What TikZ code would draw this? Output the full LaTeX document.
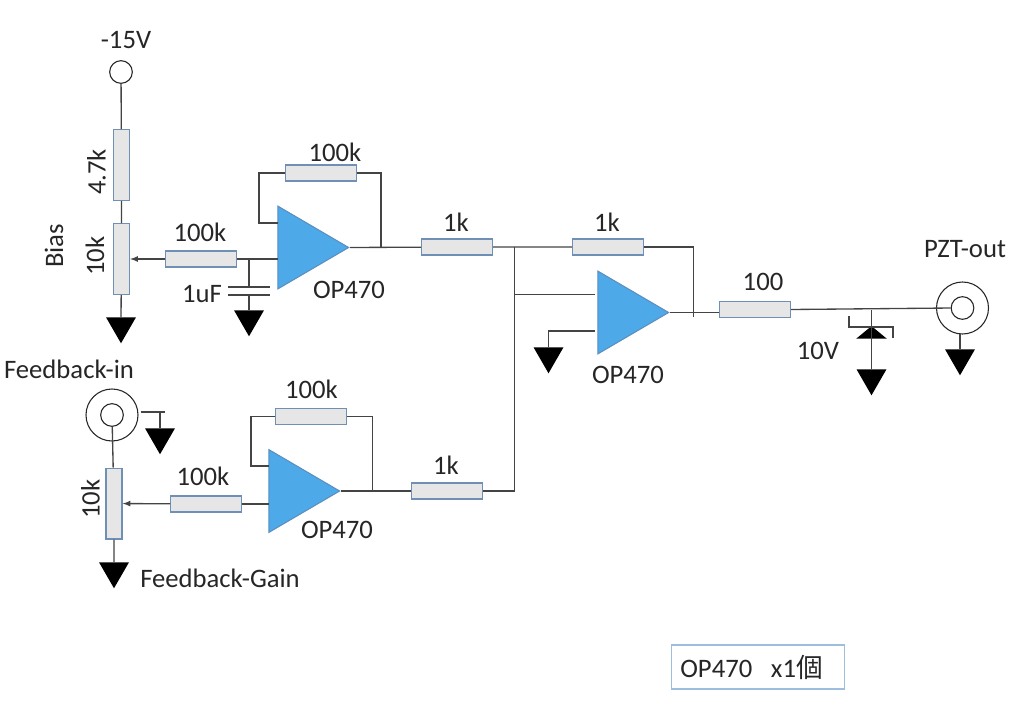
\documentclass[tikz,border=0pt]{standalone}
\usepackage{fontspec}
\setmainfont{Carlito}
\newfontfamily\cjk{Noto Sans CJK JP}
\usetikzlibrary{shapes.geometric}
\definecolor{wirecolor}{HTML}{444444}
\definecolor{rescolor}{HTML}{E6E6E6}
\definecolor{resedge}{HTML}{6F8FB5}
\definecolor{ampcolor}{HTML}{4DA9E8}
\definecolor{ampedge}{HTML}{5B8FC0}
\definecolor{boxedge}{HTML}{9DBFDD}
\tikzset{
  wire/.style = {draw = wirecolor, line width = 1pt},
  lbl/.style = {font = \fontsize{20}{20}\selectfont, text = black!85, inner sep = 0pt},
  resv/.style = {draw = resedge, fill = rescolor, line width = 1pt, minimum width = 12pt, minimum height = 53pt, inner sep = 0pt},
  resh/.style = {draw = resedge, fill = rescolor, line width = 1pt, minimum width = 53pt, minimum height = 12pt, inner sep = 0pt},
  amp/.style = {isosceles triangle, isosceles triangle stretches, draw = ampedge, fill = ampcolor, line width = 0.8pt, minimum width = 62pt, minimum height = 53pt, inner sep = 0pt, anchor = apex},
  gnd/.style = {isosceles triangle, isosceles triangle stretches, shape border rotate = 270, fill = black, minimum width = 22.5pt, minimum height = 19.5pt, inner sep = 0pt, anchor = lower side},
  port/.style = {circle, draw = black!85, fill = white, line width = 0.8pt, inner sep = 0pt},
}
\begin{document}
\begin{tikzpicture}[x=0.75pt,y=-0.75pt]
\useasboundingbox (0,0) rectangle (1024,711);
% bias divider
\node[port, minimum size = 17pt] (vneg) at (121,72) {};
\node[resv] (rtop) at (121.5,165) {};
\node[resv] (rbias) at (121.5,259) {};
\node[gnd] (gbias) at (121,317) {};
\node[resh] (rin1) at (201,259) {};
\node[amp] (amp1) at (350,247.5) {};
\coordinate (amp1in) at (277.5,259);
\coordinate (amp1fb) at (277.5,223);
\coordinate (capnode) at (249,259);
\coordinate (captop) at (249,287);
\coordinate (capbot) at (249,295);
\node[gnd] (gcap) at (249,310) {};
\node[resh] (rfb1) at (321,173) {};
\coordinate (fb1out) at (381,247);
\draw[wire] (vneg) -- (rtop) -- (rbias) -- (gbias.lower side);
\draw[wire] (amp1in) -- (rin1);
\draw[wire, -latex] (rin1) -- (rbias);
\draw[wire] (capnode) -- (captop) (capbot) -- (gcap.lower side);
\draw[wire] ([xshift=-16pt]captop) -- ([xshift=16pt]captop) ([xshift=-16pt]capbot) -- ([xshift=16pt]capbot);
\draw[wire] (amp1fb) -| (259,173) -- (rfb1);
\draw[wire] (rfb1) -| (fb1out);
% feedback input
\node[port, minimum size = 39pt] (fbjack) at (112,415) {};
\node[port, minimum size = 17pt] (fbcore) at (112,415) {};
\node[resv] (rgain) at (114,503.5) {};
\node[gnd] (ggain) at (114,562) {};
\node[gnd] (gjack) at (160,428) {};
\coordinate (jackshield) at (141,412);
\node[resh] (rin3) at (206,504) {};
\node[amp] (amp3) at (341,491) {};
\coordinate (amp3in) at (268.5,504);
\coordinate (amp3fb) at (268.5,466);
\node[resh] (rfb3) at (311,416.5) {};
\coordinate (fb3out) at (372.5,491);
\draw[wire] (fbcore) -- (rgain) -- (ggain.lower side);
\draw[wire] (jackshield) -- (165,412) (160,412) -- (gjack.lower side);
\draw[wire] (amp3in) -- (rin3);
\draw[wire, -latex] (rin3) -- (rgain);
\draw[wire] (amp3fb) -| (251,416.5) -- (rfb3);
\draw[wire] (rfb3) -| (fb3out);
% summing stage
\node[resh] (rsum1) at (457,247) {};
\node[resh] (rsum3) at (447,491) {};
\node[resh] (rfb2) at (608,247) {};
\node[amp] (amp2) at (670,312.5) {};
\coordinate (sumtop) at (514.5,247);
\coordinate (sumbot) at (514.5,491);
\coordinate (amp2neg) at (595,294.5);
\coordinate (amp2pos) at (595,331);
\node[gnd] (gpos) at (548.5,347) {};
\coordinate (fb2out) at (693.5,247);
\coordinate (fb2end) at (693.5,317);
\draw[wire] (amp1.apex) -- (rsum1) -- (rfb2);
\draw[wire] (amp3.apex) -- (rsum3) -- (sumbot);
\draw[wire] (sumtop) -- (sumbot);
\draw[wire] (amp2neg) -- (sumtop |- amp2neg);
\draw[wire] (amp2pos) -| (gpos.lower side);
\draw[wire] (rfb2) -- (fb2out) -- (fb2end);
% output
\node[resh] (rout) at (755,309.5) {};
\node[port, minimum size = 39pt] (pztjack) at (962.5,308) {};
\node[port, minimum size = 17pt] (pztcore) at (962.5,308) {};
\node[gnd] (gpzt) at (960,349) {};
\coordinate (zennode) at (871.5,310);
\node[isosceles triangle, isosceles triangle stretches, shape border rotate = 90, fill = black, minimum width = 23pt, minimum height = 9.5pt, inner sep = 0pt, anchor = lower side] (zen) at (871.5,339) {};
\node[gnd] (gzen) at (871.5,369) {};
\draw[wire] (amp2.apex) -- (rout.west |- amp2.apex);
\draw[wire] (rout.east) -- (pztcore.west);
\draw[wire] (960,334) -- (gpzt.lower side);
\draw[wire] (zennode) -- (gzen.lower side);
\draw[wire] (849,316) |- (893,327) -- (893,338);
% labels
\node[lbl] (t15v) at (126,40) {-15V};
\node[lbl, rotate = 90] (t47k) at (96.5,172) {4.7k};
\node[lbl, rotate = 90] (t10k) at (95,256) {10k};
\node[lbl, rotate = 90] (tbias) at (54,246) {Bias};
\node[lbl] (tr1) at (200,232) {100k};
\node[lbl] (tc1) at (202,294) {1uF};
\node[lbl] (tf1) at (335,152) {100k};
\node[lbl] (ta1) at (349,290) {OP470};
\node[lbl] (ts1) at (456,222) {1k};
\node[lbl] (tf2) at (607,222) {1k};
\node[lbl] (ta2) at (628,375) {OP470};
\node[lbl] (tout) at (763,282) {100};
\node[lbl] (tzen) at (818,351) {10V};
\node[lbl] (tpzt) at (965,249) {PZT-out};
\node[lbl] (tfbin) at (69,369) {Feedback-in};
\node[lbl, rotate = 90] (t10kb) at (90.5,499) {10k};
\node[lbl] (tgain) at (220,578) {Feedback-Gain};
\node[lbl] (tr3) at (203,476) {100k};
\node[lbl] (tf3) at (311.5,389) {100k};
\node[lbl] (ta3) at (337,530) {OP470};
\node[lbl] (ts3) at (446,465) {1k};
\node[draw = boxedge, line width = 1pt, minimum width = 130pt, minimum height = 33pt, inner sep = 0pt] (tbox) at (758,667) {};
\node[lbl] (tcount) at (751.5,667) {OP470\hspace{14pt}x1{\cjk 個}};
\end{tikzpicture}
\end{document}
